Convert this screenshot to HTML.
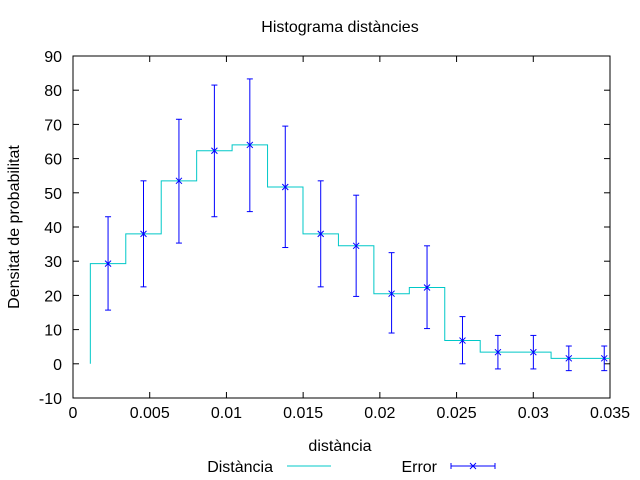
<!DOCTYPE html>
<html><head><meta charset="utf-8"><style>
body{margin:0;background:#fff}
svg{display:block;font-family:"Liberation Sans",sans-serif;font-size:16px}
</style></head><body>
<svg id="c" width="640" height="480" xmlns="http://www.w3.org/2000/svg">
<defs><clipPath id="pc"><rect x="73" y="56" width="537" height="342"/></clipPath></defs>
<rect width="640" height="480" fill="#fff"/>
<text x="340" y="32" text-anchor="middle">Histograma distàncies</text>
<text transform="translate(19,227) rotate(-90)" text-anchor="middle">Densitat de probabilitat</text>
<text x="340" y="451" text-anchor="middle">distància</text>
<g id="axes"></g>
<g id="marks" clip-path="url(#pc)"></g>
<g>
<text x="273" y="472" text-anchor="end">Distància</text>
<line x1="287" y1="466" x2="331" y2="466" stroke="#00c8c8" stroke-width="1"/>
<text x="437" y="472" text-anchor="end">Error</text>
<g stroke="#0000ff">
<line x1="451" y1="466" x2="495" y2="466"/><line x1="451" y1="463" x2="451" y2="469"/><line x1="495" y1="463" x2="495" y2="469"/>
<line x1="470" y1="463" x2="476" y2="469"/><line x1="470" y1="469" x2="476" y2="463"/>
</g></g>
</svg>
<script>
const xTicks=[0,0.005,0.01,0.015,0.02,0.025,0.03,0.035];
const xTickLabels=["0","0.005","0.01","0.015","0.02","0.025","0.03","0.035"];
const yTicks=[-10,0,10,20,30,40,50,60,70,80,90];
const binStart=0.00113;
const binWidth=0.00231;
const values=[29.3,38,53.5,62.3,64,51.7,38,34.5,20.5,22.3,6.8,3.4,3.4,1.6,1.6];
const errHigh=[43,53.5,71.5,81.5,83.3,69.5,53.5,49.3,32.5,34.5,13.8,8.3,8.3,5.2,5.2];
const errLow=[15.7,22.5,35.3,43,44.5,34,22.5,19.7,9,10.3,0,-1.5,-1.5,-2,-2];
const L=73,R=610,T=56,B=398;
const X=v=>L+(v-0)/(0.035)*(R-L);
const Y=v=>B-(v+10)/100*(B-T);
const NS="http://www.w3.org/2000/svg";
function mk(tag,attrs,parent){const e=document.createElementNS(NS,tag);for(const k in attrs)e.setAttribute(k,attrs[k]);parent.appendChild(e);return e;}
const ax=document.getElementById('axes'),mg=document.getElementById('marks');
const frame=mk('rect',{x:L,y:T,width:R-L,height:B-T,fill:'none',stroke:'#000'},ax);


xTicks.forEach((t,i)=>{const x=X(t);
mk('line',{x1:x,y1:B,x2:x,y2:B-6,stroke:'#000'},ax);mk('line',{x1:x,y1:T,x2:x,y2:T+6,stroke:'#000'},ax);
const tx=mk('text',{x:x,y:B+20,'text-anchor':'middle'},ax);tx.textContent=xTickLabels[i];

});
yTicks.forEach(t=>{const y=Y(t);
mk('line',{x1:L,y1:y,x2:L+6,y2:y,stroke:'#000'},ax);mk('line',{x1:R,y1:y,x2:R-6,y2:y,stroke:'#000'},ax);
const tx=mk('text',{x:L-11,y:y+6,'text-anchor':'end'},ax);tx.textContent=String(t);

});
let d='M'+X(binStart)+','+Y(0);
values.forEach((v,i)=>{const x0=X(binStart+i*binWidth),x1=X(binStart+(i+1)*binWidth);d+=' L'+x0+','+Y(v)+' L'+x1+','+Y(v);});
const st=mk('path',{d:d,fill:'none',stroke:'#00c8c8','stroke-width':1},mg);


values.forEach((v,i)=>{const x=X(binStart+(i+0.5)*binWidth);
const g=mk('g',{stroke:'#0000ff','stroke-width':1},mg);


const yh=Y(errHigh[i]),yl=Y(errLow[i]),yv=Y(v);
mk('line',{x1:x,y1:yh,x2:x,y2:yl},g);mk('line',{x1:x-3,y1:yh,x2:x+3,y2:yh},g);mk('line',{x1:x-3,y1:yl,x2:x+3,y2:yl},g);
mk('line',{x1:x-3,y1:yv-3,x2:x+3,y2:yv+3},g);mk('line',{x1:x-3,y1:yv+3,x2:x+3,y2:yv-3},g);});
</script>
</body></html>
